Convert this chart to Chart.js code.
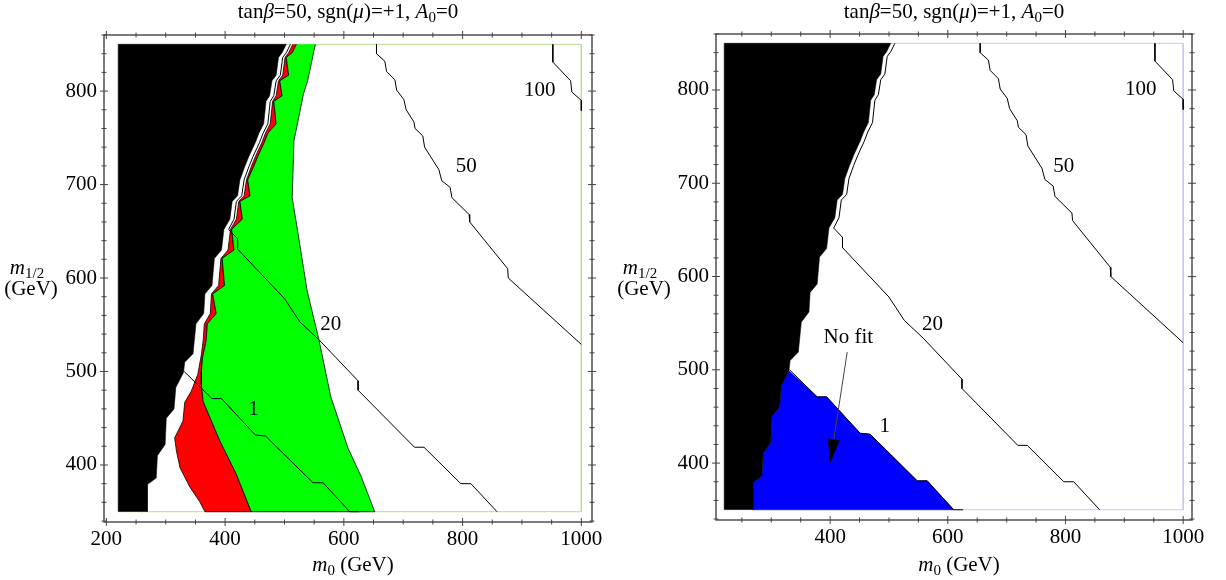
<!DOCTYPE html>
<html>
<head>
<meta charset="utf-8">
<script src="https://cdn.jsdelivr.net/npm/chart.js"></script>
<style>
  body { margin: 0; background: #fff; width: 1226px; height: 580px; overflow: hidden; position: relative; }
  .box { position: absolute; top: 0; width: 613px; height: 580px; }
</style>
</head>
<body>
<div class="box" style="left:0"><canvas id="left" width="613" height="580"></canvas></div>
<div class="box" style="left:613px"><canvas id="right" width="613" height="580"></canvas></div>

<script>
// ---- data (m0, m1/2 in GeV) ----
var xTicks = [200, 400, 600, 800, 1000];
var yTicks = [400, 500, 600, 700, 800];

// edge of the black (excluded) region, top to bottom
var blackEdge = [[503,850],[496,841],[490,836],[486,817],[479,811],[475,795],[469,789],[465,765],[457,755],[451,745],
  [440,730],[433,719],[425,705],[421,688],[412,682],[408,663],[398,652],[394,630],[382,621],[378,592],[366,583],
  [364,562],[351,551],[346,519],[332,510],[330,499],[317,483],[314,460],[301,450],[299,422],[286,410],[284,386],
  [269,379],[269,350]];

// left edge of the coloured band (red outer edge), top to bottom
var redEdge = [[514,850],[507,841],[501,836],[497,817],[490,811],[486,795],[480,789],[476,765],[468,755],[462,745],
  [451,730],[444,719],[436,705],[432,688],[423,682],[419,663],[409,652],[405,630],[393,621],[389,592],[377,583],
  [375,562],[365,551],[363,533],[360,518],[354,497],[343,479],[332,467],[329,447],[315,429],[318,415],[324,397],
  [341,376],[357,361],[366,350]];

// red / green boundary, top to bottom
var greenLeft = [[520,850],[513,841],[503,836],[507,817],[492,811],[496,795],[482,789],[486,765],[472,755],[466,745],
  [455,730],[448,719],[438,705],[442,688],[425,682],[429,663],[411,652],[415,630],[395,621],[399,592],[379,583],
  [385,562],[370,551],[368,533],[362,515],[360,500],[360,486],[363,468],[391,426],[419,390],[444,350]];

// right edge of the green region, top to bottom
var greenRight = [[552,850],[539,811],[532,797],[516,747],[513,686],[522,651],[538,587],[558,534],[578,473],
  [607,418],[629,388],[652,350]];

// contours
var c1 = [[331,500],[378,471],[394,471],[451,432],[468,431],[548,381],[565,381],[610,350],[626,350]];
var c20 = [[510,850],[503,841],[497,836],[493,817],[486,811],[482,795],[476,789],[472,765],[464,755],[458,745],
  [447,730],[440,719],[432,705],[428,688],[419,682],[415,663],[406,652],[421,642],[421,631],[500,578],[526,553],
  [558,534],[624,490],[624,480],[719,419],[735,419],[797,380],[814,380],[858,350]];
var c50 = [[655,850],[655,840],[669,832],[672,821],[686,812],[689,801],[701,791],[705,780],[718,767],[720,760],
  [733,752],[736,740],[760,716],[765,704],[779,697],[782,686],[811,668],[812,660],[876,610],[877,600],[1000,529]];
var c100 = [[952,850],[952,831],[982,811],[984,799],[1000,790],[1000,779]];

// "No fit" region (right panel)
var blueRegion = [[330,499],[378,471],[394,471],[451,432],[468,431],[548,381],[565,381],[610,350],[269,350],
  [269,379],[284,386],[286,410],[299,422],[301,450],[314,460],[317,483],[330,499]];

var gridBox = [[220,350],[220,850],[1000,850],[1000,350],[220,350]];

var leftLabels = [['100',930,801],['50',806,719],['20',578,550],['1',448,459]];
var rightLabels = [['100',928,801],['50',797,718],['20',574,549],['1',493,439],['No fit',431,535]];
var arrow = [[429,519],[400,400]];

// ---- helpers ----
var serif = '"Liberation Serif", "Times New Roman", serif';

function pts(a) { return a.map(function (p) { return { x: p[0], y: p[1] }; }); }

function blackPoly() { return [[220,350],[220,850]].concat(blackEdge); }
function redPoly() { return redEdge.concat([[444,350]], greenLeft.slice().reverse()); }
function greenPoly() { return greenLeft.concat([[652,350]], greenRight.slice().reverse()); }

function area(data, color, order, border) {
  return { data: pts(data), fill: 'shape', backgroundColor: color, borderColor: border || color,
           borderWidth: border ? 0.8 : 0.5, order: order };
}
function line(data, color, order, width) {
  return { data: pts(data), fill: false, borderColor: color, borderWidth: width || 1, order: order };
}

function fontFor(s, size) {
  if (s === 'i') return 'italic ' + size + 'px ' + serif;
  if (s === 'sub') return Math.round(size * 0.7) + 'px ' + serif;
  return size + 'px ' + serif;
}
function rich(ctx, parts, x, y, size) {
  var total = 0;
  parts.forEach(function (p) { ctx.font = fontFor(p[1], size); total += ctx.measureText(p[0]).width; });
  var cx = x - total / 2;
  ctx.textAlign = 'left';
  ctx.textBaseline = 'middle';
  parts.forEach(function (p) {
    ctx.font = fontFor(p[1], size);
    ctx.fillText(p[0], cx, y + (p[1] === 'sub' ? size * 0.28 : 0));
    cx += ctx.measureText(p[0]).width;
  });
}

var decor = {
  id: 'decor',
  afterDatasetsDraw: function (chart, args, opts) {
    var ctx = chart.ctx, a = chart.chartArea, xs = chart.scales.x, ys = chart.scales.y;
    ctx.save();
    // frame with small ticks across the edge
    ctx.strokeStyle = '#444';
    ctx.lineWidth = 1.4;
    ctx.strokeRect(a.left, a.top, a.right - a.left, a.bottom - a.top);
    ctx.lineWidth = 1;
    ctx.beginPath();
    for (var v = 200; v <= 1000; v += 50) {
      if (v < xs.min || v > xs.max) continue;
      var px = xs.getPixelForValue(v), len = v % 200 === 0 ? 4 : 2.5;
      ctx.moveTo(px, a.bottom - len); ctx.lineTo(px, a.bottom + len);
      ctx.moveTo(px, a.top - len); ctx.lineTo(px, a.top + len);
    }
    for (var w = 340; w <= 860; w += 20) {
      if (w < ys.min || w > ys.max) continue;
      var py = ys.getPixelForValue(w), l2 = w % 100 === 0 ? 4 : 2.5;
      ctx.moveTo(a.left - l2, py); ctx.lineTo(a.left + l2, py);
      ctx.moveTo(a.right - l2, py); ctx.lineTo(a.right + l2, py);
    }
    ctx.stroke();

    ctx.fillStyle = '#000';
    var cx = (a.left + a.right) / 2;
    rich(ctx, [['tan', ''], ['\u03b2', 'i'], ['=50, sgn(', ''], ['\u03bc', 'i'], [')=+1, ', ''], ['A', 'i'], ['0', 'sub'], ['=0', '']], cx, 12, 21);
    rich(ctx, [['m', 'i'], ['0', 'sub'], [' (GeV)', '']], cx + 5, 565, 21);
    rich(ctx, [['m', 'i'], ['1/2', 'sub']], opts.ylx, 268, 21);
    rich(ctx, [['(GeV)', '']], opts.ylx + 4, 289, 21);

    // contour labels
    ctx.font = '21px ' + serif;
    ctx.textAlign = 'center';
    ctx.textBaseline = 'middle';
    opts.labels.forEach(function (t) {
      ctx.fillText(t[0], xs.getPixelForValue(t[1]), ys.getPixelForValue(t[2]));
    });

    if (opts.arrow) {
      var x0 = xs.getPixelForValue(arrow[0][0]), y0 = ys.getPixelForValue(arrow[0][1]);
      var x1 = xs.getPixelForValue(arrow[1][0]), y1 = ys.getPixelForValue(arrow[1][1]);
      var ang = Math.atan2(y1 - y0, x1 - x0), hl = 24, hw = 6;
      var bx = x1 - hl * Math.cos(ang), by = y1 - hl * Math.sin(ang);
      ctx.beginPath(); ctx.moveTo(x0, y0); ctx.lineTo(bx, by); ctx.stroke();
      ctx.beginPath();
      ctx.moveTo(x1, y1);
      ctx.lineTo(bx + hw * Math.sin(ang), by - hw * Math.cos(ang));
      ctx.lineTo(bx - hw * Math.sin(ang), by + hw * Math.cos(ang));
      ctx.closePath();
      ctx.fill();
    }
    ctx.restore();
  }
};

function makeChart(id, datasets, cfg) {
  return new Chart(document.getElementById(id), {
    type: 'line',
    data: { datasets: datasets },
    options: {
      responsive: false,
      animation: false,
      events: [],
      layout: { padding: { top: cfg.top, right: cfg.right, left: 0, bottom: 0 } },
      elements: { point: { radius: 0, hitRadius: 0 }, line: { tension: 0 } },
      plugins: { legend: { display: false }, tooltip: { enabled: false },
                 decor: { labels: cfg.labels, arrow: cfg.arrow, ylx: cfg.ylx } },
      scales: {
        x: {
          type: 'linear', min: cfg.xmin, max: cfg.xmax,
          grid: { display: false, drawTicks: false }, border: { display: false },
          ticks: { color: '#000', padding: 5, maxRotation: 0, font: { family: serif, size: 21 },
                   callback: function (v) { return String(v); } },
          afterBuildTicks: function (s) {
            s.ticks = xTicks.filter(function (v) { return v >= s.min && v <= s.max; })
                            .map(function (v) { return { value: v }; });
          },
          afterFit: function (s) { s.height = cfg.xh; }
        },
        y: {
          type: 'linear', min: cfg.ymin, max: cfg.ymax,
          grid: { display: false, drawTicks: false }, border: { display: false },
          ticks: { color: '#000', padding: 7, font: { family: serif, size: 21 },
                   callback: function (v) { return String(v); } },
          afterBuildTicks: function (s) {
            s.ticks = yTicks.map(function (v) { return { value: v }; });
          },
          afterFit: function (s) { s.width = cfg.yw; }
        }
      }
    },
    plugins: [decor]
  });
}

makeChart('left', [
  line(gridBox, '#b9dc93', 10, 1),
  area(redPoly(), '#ff0000', 9, '#000'),
  area(greenPoly(), '#00ff00', 8, '#000'),
  area(blackPoly(), '#000000', 7),
  line(c20, '#000', 4),
  line(c1, '#000', 3),
  line(c50, '#000', 2),
  line(c100, '#000', 1)
], { top: 35, right: 21, xh: 58, yw: 104, xmin: 196, xmax: 1018, ymin: 339, ymax: 860,
     labels: leftLabels, arrow: false, ylx: 27 });

makeChart('right', [
  line(gridBox, '#c9c9ee', 10, 1),
  area(blueRegion, '#0000ff', 9),
  area(blackPoly(), '#000000', 7),
  line(c20, '#000', 4),
  line(c1, '#000', 3),
  line(c50, '#000', 2),
  line(c100, '#000', 1)
], { top: 34, right: 34, xh: 60, yw: 103, xmin: 206, xmax: 1015, ymin: 339, ymax: 860,
     labels: rightLabels, arrow: true, ylx: 27 });
</script>
</body>
</html>
